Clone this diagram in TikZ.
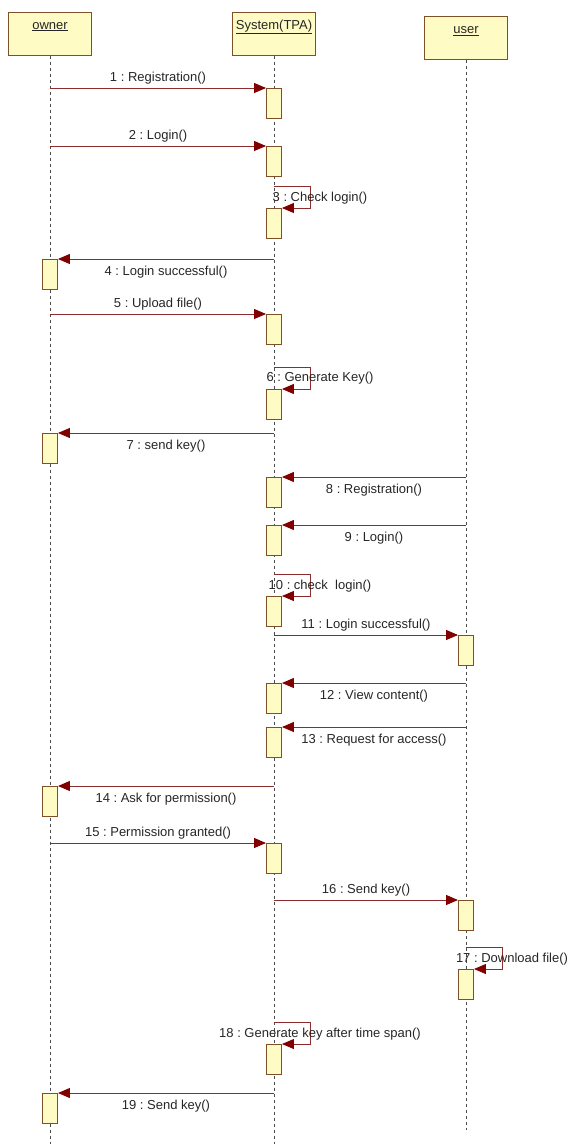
\documentclass[tikz,border=0pt]{standalone}
\usepackage{fontspec}
\setmainfont{Liberation Sans}
\usepackage{xcolor}
\definecolor{umlfill}{RGB}{255,251,196}
\definecolor{umlline}{RGB}{125,80,40}
\definecolor{umlred}{RGB}{128,0,0}
\definecolor{umlmsg}{RGB}{140,45,45}
\usetikzlibrary{arrows.meta,positioning,calc}
\frenchspacing

\begin{document}
\begin{tikzpicture}[x=1pt, y=-1pt,
  head/.style={rectangle, draw=umlline, fill=umlfill, line width=1pt,
               minimum width=83pt, inner ysep=4pt, text height=13pt, text depth=22pt,
               font=\fontsize{13}{15}\selectfont, text=black!85},
  bar/.style={rectangle, draw=umlline, fill=umlfill, line width=0.9pt,
              minimum width=15pt, minimum height=30pt, inner sep=0pt, anchor=north},
  life/.style={draw=black!70, dash pattern=on 3pt off 3pt, line width=0.9pt},
  msg/.style={-{Triangle[length=12pt, width=10pt, color=umlred]}, draw=umlmsg, line width=1pt},
  lbl/.style={font=\fontsize{13}{15}\selectfont, text=black!85, inner sep=3pt}
]
\useasboundingbox (0,0) rectangle (568,1144);

% Lifeline heads
\node[head] (own) at ( 50, 33.5) {\underline{owner}};
\node[head] (tpa) at (274, 33.5) {\underline{System(TPA)}};
\node[head] (usr) at (466, 38)   {\underline{user}};

% Lifelines
\coordinate (ownend) at ( 50,1144);
\coordinate (tpaend) at (274,1144);
\coordinate (usrend) at (466,1130);
\draw[life] (own.south) -- (ownend);
\draw[life] (tpa.south) -- (tpaend);
\draw[life] (usr.south) -- (usrend);

% Activation bars
\node[bar] (t1)  at (274,  88) {};
\node[bar] (t2)  at (274, 146) {};
\node[bar] (t3)  at (274, 208) {};
\node[bar] (o4)  at ( 50, 259) {};
\node[bar] (t5)  at (274, 314) {};
\node[bar] (t6)  at (274, 389) {};
\node[bar] (o7)  at ( 50, 433) {};
\node[bar] (t8)  at (274, 477) {};
\node[bar] (t9)  at (274, 525) {};
\node[bar] (t10) at (274, 596) {};
\node[bar] (u11) at (466, 635) {};
\node[bar] (t12) at (274, 683) {};
\node[bar] (t13) at (274, 727) {};
\node[bar] (o14) at ( 50, 786) {};
\node[bar] (t15) at (274, 843) {};
\node[bar] (u16) at (466, 900) {};
\node[bar] (u17) at (466, 969) {};
\node[bar] (t18) at (274,1044) {};
\node[bar] (o19) at ( 50,1093) {};

% Messages
\draw[msg] (t1.north west -| own) -- (t1.north west) node[lbl, midway, above] {1 : Registration()};
\draw[msg] (t2.north west -| own) -- (t2.north west) node[lbl, midway, above] {2 : Login()};
\draw[msg] (t3.north) ++(0,-22) -- ++(36,0) |- (t3.north east);
\node[lbl] at ($(t3.north)+(46,-10)$) {3 : Check login()};
\draw[msg] (o4.north east -| tpa) -- (o4.north east) node[lbl, midway, below=4pt] {4 : Login successful()};
\draw[msg] (t5.north west -| own) -- (t5.north west) node[lbl, midway, above] {5 : Upload file()};
\draw[msg] (t6.north) ++(0,-22) -- ++(36,0) |- (t6.north east);
\node[lbl] at ($(t6.north)+(46,-11)$) {6 : Generate Key()};
\draw[msg] (o7.north east -| tpa) -- (o7.north east) node[lbl, midway, below=4pt] {7 : send key()};
\draw[msg] (t8.north east -| usr) -- (t8.north east) node[lbl, midway, below=4pt] {8 : Registration()};
\draw[msg] (t9.north east -| usr) -- (t9.north east) node[lbl, midway, below=4pt] {9 : Login()};
\draw[msg] (t10.north) ++(0,-22) -- ++(36,0) |- (t10.north east);
\node[lbl] at ($(t10.north)+(46,-10)$) {10 : check\ \ login()};
\draw[msg] (u11.north west -| tpa) -- (u11.north west) node[lbl, midway, above] {11 : Login successful()};
\draw[msg] (t12.north east -| usr) -- (t12.north east) node[lbl, midway, below=4pt] {12 : View content()};
\draw[msg] (t13.north east -| usr) -- (t13.north east) node[lbl, midway, below=4pt] {13 : Request for access()};
\draw[msg] (o14.north east -| tpa) -- (o14.north east) node[lbl, midway, below=4pt] {14 : Ask for permission()};
\draw[msg] (t15.north west -| own) -- (t15.north west) node[lbl, midway, above] {15 : Permission granted()};
\draw[msg] (u16.north west -| tpa) -- (u16.north west) node[lbl, midway, above] {16 : Send key()};
\draw[msg] (u17.north) ++(0,-22) -- ++(36,0) |- (u17.north east);
\node[lbl] at ($(u17.north)+(46,-10)$) {17 : Download file()};
\draw[msg] (t18.north) ++(0,-22) -- ++(36,0) |- (t18.north east);
\node[lbl] at ($(t18.north)+(46,-10)$) {18 : Generate key after time span()};
\draw[msg] (o19.north east -| tpa) -- (o19.north east) node[lbl, midway, below=4pt] {19 : Send key()};
\end{tikzpicture}
\end{document}
